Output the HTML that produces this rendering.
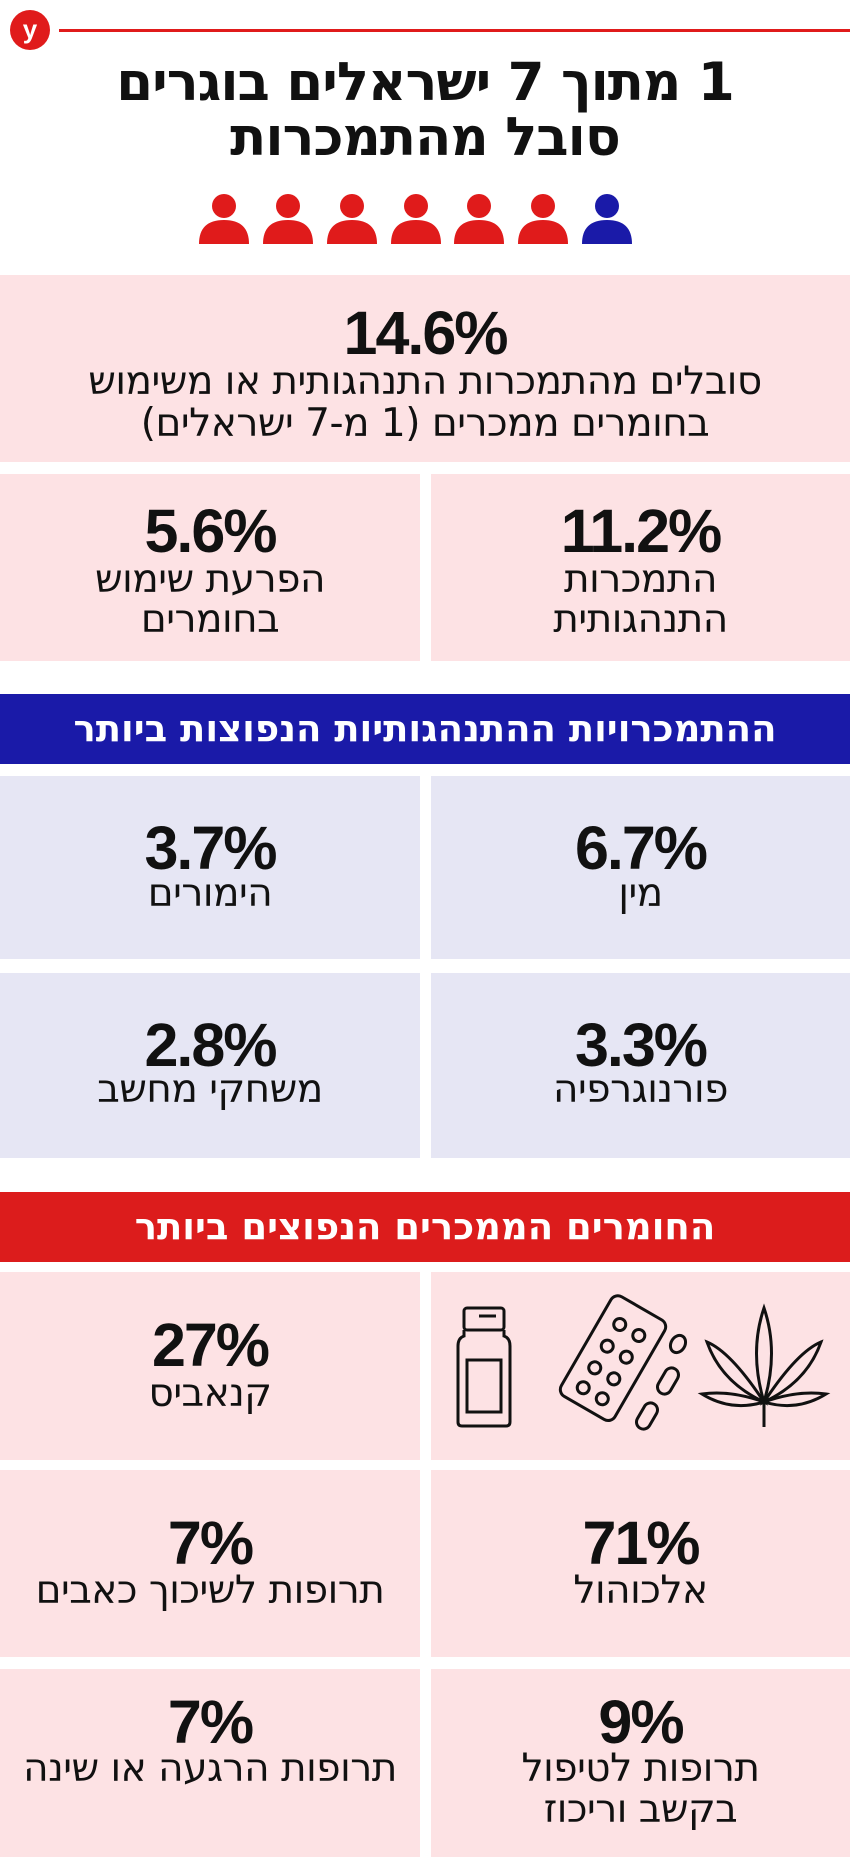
<!DOCTYPE html>
<html><head><meta charset="utf-8"><style>
*{margin:0;padding:0;box-sizing:border-box}
body{width:850px;height:1857px;background:#fff;position:relative;overflow:hidden;font-family:"DejaVu Sans","Liberation Sans",sans-serif;color:#111}
.a{position:absolute}
.box{position:absolute;background:#fde2e4}
.lb{background:#e6e6f4}
.t{position:absolute;left:0;right:0;text-align:center;direction:rtl;white-space:nowrap}
.num{font-family:"Liberation Sans",sans-serif;font-weight:bold;font-size:61px;letter-spacing:-2px;line-height:60px;height:60px}
.lab{font-size:39px;line-height:40px;height:40px;letter-spacing:-0.5px}
.hd{position:absolute;left:0;width:850px;color:#fff;font-weight:bold;font-size:37px;text-align:center;direction:rtl;letter-spacing:0}
</style></head><body>
<div class="a" style="left:10px;top:10px;width:40px;height:40px;border-radius:50%;background:#e01b1b;color:#fff;font:bold 26px/38px 'Liberation Sans',sans-serif;text-align:center">y</div>
<div class="a" style="left:59px;top:29px;width:791px;height:3px;background:#e01b1b"></div>
<div class="t" style="top:54px;font-size:53px;font-weight:bold;line-height:58px;letter-spacing:-1px">1 מתוך 7 ישראלים בוגרים</div>
<div class="t" style="top:109px;font-size:53px;font-weight:bold;line-height:58px;letter-spacing:-1px">סובל מהתמכרות</div>
<svg class="a" style="left:0;top:192px" width="850" height="54">
<circle cx="224" cy="14" r="12" fill="#e01b1b"/><path d="M199 52 Q199 28 224 28 Q249 28 249 52Z" fill="#e01b1b"/>
<circle cx="288" cy="14" r="12" fill="#e01b1b"/><path d="M263 52 Q263 28 288 28 Q313 28 313 52Z" fill="#e01b1b"/>
<circle cx="352" cy="14" r="12" fill="#e01b1b"/><path d="M327 52 Q327 28 352 28 Q377 28 377 52Z" fill="#e01b1b"/>
<circle cx="416" cy="14" r="12" fill="#e01b1b"/><path d="M391 52 Q391 28 416 28 Q441 28 441 52Z" fill="#e01b1b"/>
<circle cx="479" cy="14" r="12" fill="#e01b1b"/><path d="M454 52 Q454 28 479 28 Q504 28 504 52Z" fill="#e01b1b"/>
<circle cx="543" cy="14" r="12" fill="#e01b1b"/><path d="M518 52 Q518 28 543 28 Q568 28 568 52Z" fill="#e01b1b"/>
<circle cx="607" cy="14" r="12" fill="#1a1aa8"/><path d="M582 52 Q582 28 607 28 Q632 28 632 52Z" fill="#1a1aa8"/>
</svg>

<div class="box" style="left:0;top:275px;width:850px;height:187px">
<div class="t num" style="top:28px">14.6%</div>
<div class="t lab" style="top:87px">סובלים מהתמכרות התנהגותית או משימוש</div>
<div class="t lab" style="top:129px">בחומרים ממכרים (1 מ-7 ישראלים)</div>
</div>
<div class="box" style="left:0;top:474px;width:420px;height:187px">
<div class="t num" style="top:27px">5.6%</div>
<div class="t lab" style="top:86px">הפרעת שימוש</div>
<div class="t lab" style="top:126px">בחומרים</div>
</div>
<div class="box" style="left:431px;top:474px;width:419px;height:187px">
<div class="t num" style="top:27px">11.2%</div>
<div class="t lab" style="top:86px">התמכרות</div>
<div class="t lab" style="top:126px">התנהגותית</div>
</div>

<div class="hd" style="top:694px;height:70px;line-height:70px;background:#1a1aa8">ההתמכרויות ההתנהגותיות הנפוצות ביותר</div>
<div class="box lb" style="left:0;top:776px;width:420px;height:183px"><div class="t num" style="top:42px">3.7%</div><div class="t lab" style="top:98px">הימורים</div></div>
<div class="box lb" style="left:431px;top:776px;width:419px;height:183px"><div class="t num" style="top:42px">6.7%</div><div class="t lab" style="top:98px">מין</div></div>
<div class="box lb" style="left:0;top:973px;width:420px;height:185px"><div class="t num" style="top:42px">2.8%</div><div class="t lab" style="top:97px">משחקי מחשב</div></div>
<div class="box lb" style="left:431px;top:973px;width:419px;height:185px"><div class="t num" style="top:42px">3.3%</div><div class="t lab" style="top:97px">פורנוגרפיה</div></div>

<div class="hd" style="top:1192px;height:70px;line-height:70px;background:#dc1c1c">החומרים הממכרים הנפוצים ביותר</div>
<div class="box" style="left:0;top:1272px;width:420px;height:188px"><div class="t num" style="top:43px">27%</div><div class="t lab" style="top:102px">קנאביס</div></div>
<div class="box" style="left:431px;top:1272px;width:419px;height:188px">
<svg width="419" height="188" fill="none" stroke="#111" stroke-width="3">
<rect x="33" y="36" width="40" height="22" rx="3"/><line x1="48" y1="44" x2="65" y2="44"/>
<path d="M33 58 V64 Q27 66 27 74 V150 Q27 154 31 154 H75 Q79 154 79 150 V74 Q79 66 73 64 V58"/>
<rect x="36" y="88" width="34" height="52"/>
<g transform="rotate(30 185 85)"><rect x="152" y="30" width="62" height="115" rx="8"/>
<circle cx="172" cy="55" r="6"/><circle cx="194" cy="55" r="6"/><circle cx="172" cy="80" r="6"/><circle cx="194" cy="80" r="6"/><circle cx="172" cy="105" r="6"/><circle cx="194" cy="105" r="6"/><circle cx="172" cy="128" r="6"/><circle cx="194" cy="128" r="6"/></g>
<ellipse cx="247" cy="72" rx="7" ry="9" transform="rotate(30 247 72)"/>
<rect x="230" y="95" width="14" height="28" rx="7" transform="rotate(30 237 109)"/>
<rect x="209" y="130" width="14" height="28" rx="7" transform="rotate(30 216 144)"/>
<path d="M333 36 Q318 80 333 130 Q348 80 333 36Z"/>
<path d="M333 130 Q300 80 276 70 Q290 110 333 130Z"/>
<path d="M333 130 Q366 80 390 70 Q376 110 333 130Z"/>
<path d="M333 130 Q300 118 271 122 Q300 140 333 130Z"/>
<path d="M333 130 Q366 118 395 122 Q366 140 333 130Z"/>
<line x1="333" y1="130" x2="333" y2="155"/>
</svg></div>
<div class="box" style="left:0;top:1470px;width:420px;height:187px"><div class="t num" style="top:43px">7%</div><div class="t lab" style="top:101px">תרופות לשיכוך כאבים</div></div>
<div class="box" style="left:431px;top:1470px;width:419px;height:187px"><div class="t num" style="top:43px">71%</div><div class="t lab" style="top:101px">אלכוהול</div></div>
<div class="box" style="left:0;top:1669px;width:420px;height:188px"><div class="t num" style="top:23px">7%</div><div class="t lab" style="top:80px">תרופות הרגעה או שינה</div></div>
<div class="box" style="left:431px;top:1669px;width:419px;height:188px"><div class="t num" style="top:23px">9%</div><div class="t lab" style="top:80px">תרופות לטיפול</div><div class="t lab" style="top:121px">בקשב וריכוז</div></div>
</body></html>
